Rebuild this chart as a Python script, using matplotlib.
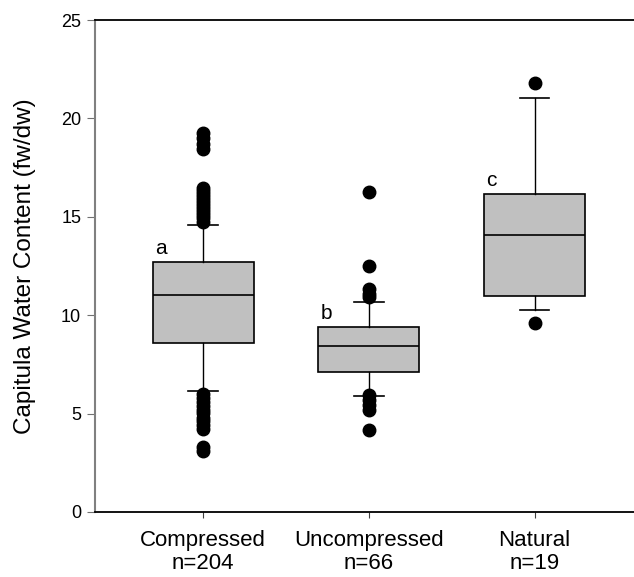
import matplotlib
matplotlib.use("Agg")
import matplotlib.pyplot as plt

plt.rcParams['font.family'] = ['Liberation Sans', 'DejaVu Sans']

# group labels and box statistics
groups = ['Compressed\nn=204', 'Uncompressed\nn=66', 'Natural\nn=19']
letters = ['a', 'b', 'c']
medians = [11.03, 8.45, 14.1]
q1 = [8.6, 7.1, 10.95]
q3 = [12.7, 9.38, 16.15]
whisker_low = [6.15, 5.9, 10.28]
whisker_high = [14.6, 10.65, 21.05]
outliers = [
    [14.75, 14.95, 15.1, 15.25, 15.4, 15.55, 15.7, 15.85, 16.0, 16.15, 16.3, 16.45,
     18.45, 18.7, 19.0, 19.25,
     6.0, 5.8, 5.6, 5.4, 5.2, 5.05, 4.8, 4.6, 4.4, 4.2, 3.3, 3.1],
    [10.9, 11.1, 11.35, 12.5, 16.27,
     5.95, 5.7, 5.45, 5.2, 4.17],
    [21.78, 9.59],
]

stats = []
for i in range(len(groups)):
    stats.append({
        'med': medians[i], 'q1': q1[i], 'q3': q3[i],
        'whislo': whisker_low[i], 'whishi': whisker_high[i],
        'fliers': outliers[i], 'label': groups[i],
    })

fig = plt.figure(figsize=(6.34, 5.77), dpi=100)
ax = fig.add_axes([0.150, 0.1127, 0.85, 0.8526])

pos = [1, 2, 3]
ax.bxp(stats, positions=pos, widths=0.61, patch_artist=True,
       boxprops=dict(facecolor='#c0c0c0', edgecolor='black', linewidth=1.2),
       medianprops=dict(color='black', linewidth=1.2),
       whiskerprops=dict(color='black', linewidth=1.0),
       capprops=dict(color='black', linewidth=1.2),
       capwidths=0.18,
       flierprops=dict(marker='o', markerfacecolor='black', markeredgecolor='black',
                       markersize=9, linestyle='none'))

for i, letter in enumerate(letters):
    ax.text(pos[i] - 0.29, q3[i] + 0.2, letter, fontsize=15, ha='left', va='bottom')

ax.set_xlim(0.348, 3.60)
ax.set_ylim(0, 25)
ax.set_yticks([0, 5, 10, 15, 20, 25])
ax.set_xticks(pos)
ax.set_xticklabels(groups, fontsize=16, linespacing=1.15)
ax.tick_params(axis='y', labelsize=13, length=6, color='#707070', direction='out', pad=4)
ax.tick_params(axis='x', length=4, color='#404040', direction='out', pad=9)
ax.set_ylabel('Capitula Water Content (fw/dw)', fontsize=17.5, labelpad=18)

ax.spines['right'].set_visible(False)
ax.spines['left'].set_color('#808080')
ax.spines['left'].set_linewidth(1.5)
ax.spines['top'].set_linewidth(1.3)
ax.spines['bottom'].set_linewidth(1.3)

fig.savefig('out.png', dpi=100)
